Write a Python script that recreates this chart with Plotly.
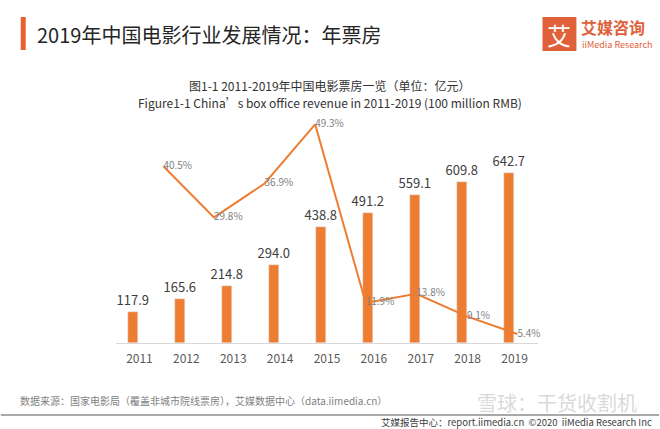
import plotly.graph_objects as go

years = ["2011", "2012", "2013", "2014", "2015", "2016", "2017", "2018", "2019"]
revenue = [117.9, 165.6, 214.8, 294.0, 438.8, 491.2, 559.1, 609.8, 642.7]
growth_years = [2012, 2013, 2014, 2015, 2016, 2017, 2018, 2019]
growth = [40.5, 29.8, 36.9, 49.3, 11.9, 13.8, 9.1, 5.4]

ORANGE = "#ED7D31"
FONT = "Noto Sans CJK SC"

fig = go.Figure()
fig.add_trace(go.Bar(
    x=years, y=revenue, marker_color=ORANGE, offset=-0.234, width=0.213,
    text=[f"{v:.1f}" for v in revenue], textposition="outside", constraintext="none",
    textfont=dict(size=13, color="#404040", family=FONT),
    cliponaxis=False, xaxis="x", yaxis="y", showlegend=False,
))
fig.add_trace(go.Scatter(
    x=growth_years, y=growth, mode="lines+text",
    line=dict(color=ORANGE, width=2),
    text=[f"{v}%" for v in growth], textposition="middle right",
    textfont=dict(size=10, color="#7F7F7F", family=FONT),
    cliponaxis=False, xaxis="x2", yaxis="y2", showlegend=False,
))

fig.update_layout(
    width=660, height=429,
    margin=dict(l=115.5, r=121.5, t=110, b=86),
    paper_bgcolor="white", plot_bgcolor="white",
    font=dict(family=FONT),
    bargap=0,
    xaxis=dict(type="category", range=[-0.5, 8.5], showgrid=False, showline=True,
               linecolor="#D9D9D9", linewidth=1, ticks="", ticklabelstandoff=5,
               tickfont=dict(size=12, color="#595959", family=FONT)),
    yaxis=dict(range=[0, 882.6], visible=False, fixedrange=True),
    xaxis2=dict(overlaying="x", range=[2011.063, 2019.406], visible=False),
    yaxis2=dict(overlaying="y", range=[3.517, 52.29], visible=False),
)

# page decorations in pixel-like paper coords
def px(x):
    return (x - 115.5) / 423.0

def py(y):
    return (343 - y) / 233.0

shapes = [
    dict(type="rect", xref="paper", yref="paper", x0=px(20), x1=px(25), y0=py(50), y1=py(17),
         fillcolor="#E8602C", line_width=0),
    dict(type="line", xref="paper", yref="paper", x0=px(0), x1=px(660), y0=py(415), y1=py(415),
         line=dict(color="#8C8C8C", width=1.5)),
    dict(type="rect", xref="paper", yref="paper", x0=px(543), x1=px(577), y0=py(51), y1=py(17),
         fillcolor="#E0603A", line_width=0),
]
fig.update_layout(shapes=shapes)

ann = [
    dict(text="2019年中国电影行业发展情况：年票房", x=px(34), y=py(34), xanchor="left", yanchor="middle",
         font=dict(size=20, color="#262626")),
    dict(text="艾", x=px(560), y=py(34), xanchor="center", yanchor="middle",
         font=dict(size=24, color="white")),
    dict(text="<b>艾媒咨询</b>", x=px(580), y=py(27), xanchor="left", yanchor="middle",
         font=dict(size=16, color="#E0603A")),
    dict(text="iiMedia Research", x=px(581), y=py(45), xanchor="left", yanchor="middle",
         font=dict(size=9, color="#E0603A")),
    dict(text="图1-1 2011-2019年中国电影票房一览（单位：亿元）", x=px(330), y=py(86), xanchor="center",
         yanchor="middle", font=dict(size=12, color="#333333")),
    dict(text="Figure1-1 China’s box office revenue in 2011-2019 (100 million RMB)", x=px(330), y=py(102),
         xanchor="center", yanchor="middle", font=dict(size=12, color="#333333")),
    dict(text="数据来源：国家电影局（覆盖非城市院线票房），艾媒数据中心（data.iimedia.cn）", x=px(17), y=py(400),
         xanchor="left", yanchor="middle", font=dict(size=10, color="#7F7F7F")),
    dict(text="雪球：干货收割机", x=px(640), y=py(403), xanchor="right", yanchor="middle",
         font=dict(size=20, color="rgba(170,170,170,0.45)")),
    dict(text="艾媒报告中心：report.iimedia.cn  ©2020  iiMedia Research Inc", x=px(655), y=py(422),
         xanchor="right", yanchor="middle", font=dict(size=9.5, color="#404040")),
]
for a in ann:
    a.update(xref="paper", yref="paper", showarrow=False)
fig.update_layout(annotations=ann)

fig.write_html("out.html", config={"displayModeBar": False},
               post_script="document.body.style.margin='0';")
